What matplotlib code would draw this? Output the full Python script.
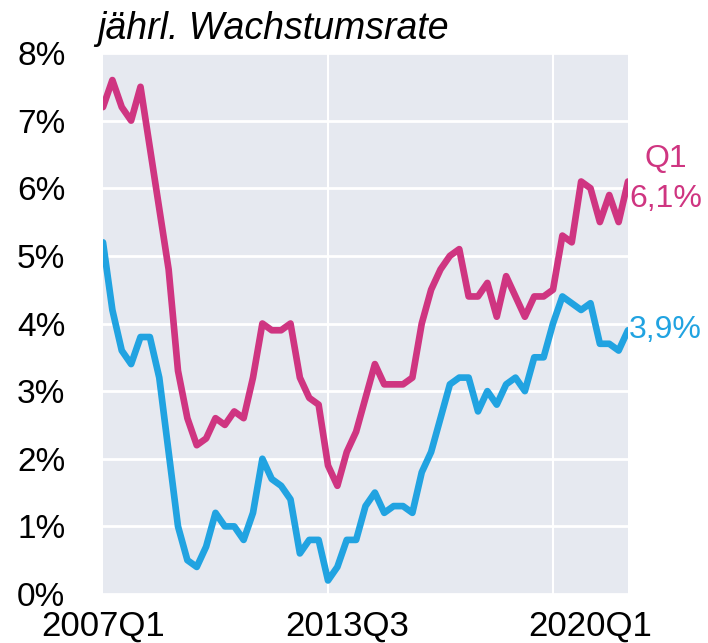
import matplotlib.pyplot as plt
import numpy as np

# quarterly data 2007Q1 .. 2021Q1
pink_vals = [7.2, 7.6, 7.2, 7.0, 7.5, 6.6, 5.7, 4.8, 3.3, 2.6, 2.2, 2.3, 2.6, 2.5, 2.7, 2.6,
             3.2, 4.0, 3.9, 3.9, 4.0, 3.2, 2.9, 2.8, 1.9, 1.6, 2.1, 2.4, 2.9, 3.4, 3.1, 3.1,
             3.1, 3.2, 4.0, 4.5, 4.8, 5.0, 5.1, 4.4, 4.4, 4.6, 4.1, 4.7, 4.4, 4.1, 4.4, 4.4,
             4.5, 5.3, 5.2, 6.1, 6.0, 5.5, 5.9, 5.5, 6.1]
blue_vals = [5.2, 4.2, 3.6, 3.4, 3.8, 3.8, 3.2, 2.1, 1.0, 0.5, 0.4, 0.7, 1.2, 1.0, 1.0, 0.8,
             1.2, 2.0, 1.7, 1.6, 1.4, 0.6, 0.8, 0.8, 0.2, 0.4, 0.8, 0.8, 1.3, 1.5, 1.2, 1.3,
             1.3, 1.2, 1.8, 2.1, 2.6, 3.1, 3.2, 3.2, 2.7, 3.0, 2.8, 3.1, 3.2, 3.0, 3.5, 3.5,
             4.0, 4.4, 4.3, 4.2, 4.3, 3.7, 3.7, 3.6, 3.9]

tick_pos = [0, 26, 52]
tick_labels = ['2007Q1', '2013Q3', '2020Q1']
grid_pos = [24, 48]
y_ticks = [0, 1, 2, 3, 4, 5, 6, 7, 8]

pink = '#CF3581'
blue = '#21A3E1'

plt.rcParams['font.family'] = ['Liberation Sans', 'DejaVu Sans']

fig = plt.figure(figsize=(7.08, 6.43), dpi=100)
ax = fig.add_axes([103 / 708, 49 / 643, 525 / 708, 541 / 643])
ax.set_facecolor('#E6E9F0')

x = np.arange(len(pink_vals))
ax.plot(x, blue_vals, color=blue, lw=4.8, solid_joinstyle='round', solid_capstyle='round', zorder=3)
ax.plot(x, pink_vals, color=pink, lw=4.8, solid_joinstyle='round', solid_capstyle='round', zorder=3)

ax.set_xlim(0, len(x) - 1)
ax.set_ylim(0, 8)
ax.set_yticks(y_ticks)
ax.set_yticklabels([f'{v}%' for v in y_ticks])
ax.set_xticks(tick_pos)
ax.set_xticklabels(tick_labels)
ax.set_xticks(grid_pos, minor=True)

ax.grid(axis='y', which='major', color='white', lw=2)
ax.grid(axis='x', which='minor', color='white', lw=1.5)
ax.set_axisbelow(True)
for s in ax.spines.values():
    s.set_visible(False)
ax.tick_params(axis='y', which='both', length=0, labelsize=24, pad=27)
ax.tick_params(axis='x', which='both', length=0, labelsize=25, pad=11)

fig.text(97 / 708, 1 - 39 / 643, 'jährl. Wachstumsrate', fontsize=27, style='italic',
         ha='left', va='baseline')

last = len(x) - 1
ax.annotate('Q1', (last, pink_vals[-1]), xytext=(38, 22), textcoords='offset pixels',
            ha='center', va='center', fontsize=23, color=pink, annotation_clip=False)
ax.annotate('6,1%', (last, pink_vals[-1]), xytext=(1, -18), textcoords='offset pixels',
            ha='left', va='center', fontsize=23, color=pink, annotation_clip=False)
ax.annotate('3,9%', (last, blue_vals[-1]), xytext=(1, 0), textcoords='offset pixels',
            ha='left', va='center', fontsize=23, color=blue, annotation_clip=False)

fig.savefig('out.png', dpi=100)
